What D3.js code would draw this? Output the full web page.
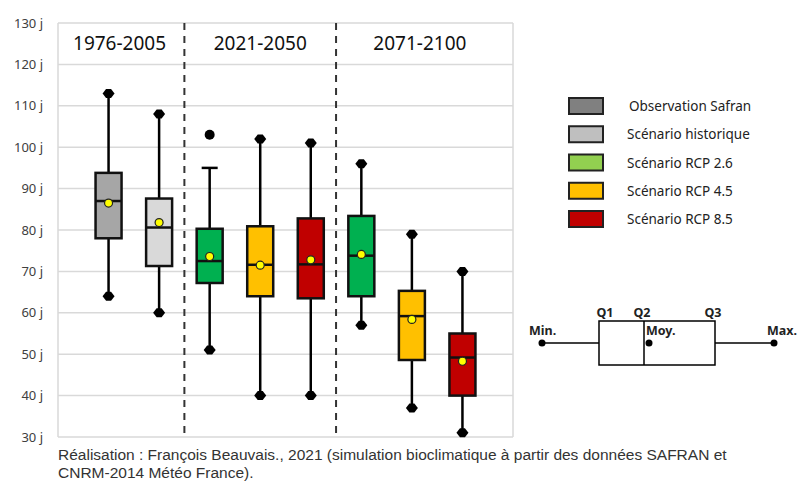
<!DOCTYPE html>
<html><head><meta charset="utf-8">
<script src="https://cdn.jsdelivr.net/npm/d3@7"></script>
<style>body{margin:0;background:#fff}svg{display:block}</style>
</head><body><svg id="c" width="797" height="483"></svg>
<script>
const periods = ["1976-2005","2021-2050","2071-2100"];
const boxNames = ["obs","hist","g50","o50","r50","g00","o00","r00"];
const boxPeriod = [0,0,1,1,1,2,2,2];
const boxFill = ["#a6a6a6","#d9d9d9","#00b050","#ffc000","#c00000","#00b050","#ffc000","#c00000"];
const minV =  [64, 60, 51, 40, 40, 57, 37, 31];
const q1V =   [78, 71.3, 67.2, 64, 63.5, 64, 48.6, 40];
const medV =  [87, 80.6, 72.5, 71.6, 71.7, 73.8, 59.2, 49.2];
const meanV = [86.5, 81.8, 73.6, 71.5, 72.8, 74.1, 58.4, 48.3];
const q3V =   [93.8, 87.6, 80.3, 80.9, 82.8, 83.4, 65.3, 55];
const maxV =  [113, 108, 95, 102, 101, 96, 79, 70];
const outliers = [{i:2, v:103}];
const capBoxes = [2]; // whisker end drawn as a cap, not a marker
const yTicks = [30,40,50,60,70,80,90,100,110,120,130];
const legendLabels = ["Observation Safran","Scénario historique","Scénario RCP 2.6","Scénario RCP 4.5","Scénario RCP 8.5"];
const legendColors = ["#808080","#bfbfbf","#92d050","#ffc000","#c00000"];
const caption = ["Réalisation : François Beauvais., 2021 (simulation bioclimatique à partir des données SAFRAN et","CNRM-2014 Météo France)."];

const svg = d3.select("#c");
const font = "'Noto Sans', 'Open Sans', sans-serif";
const L=58, R=513, T=23, B=437;
const y = d3.scaleLinear().domain([30,130]).range([B,T]);
const x = d3.scalePoint().domain(d3.range(-1,9)).range([L,R]);
const bw = 26;

// gridlines
svg.append("g").selectAll("line").data(yTicks).join("line")
  .attr("x1",L).attr("x2",R).attr("y1",d=>y(d)).attr("y2",d=>y(d))
  .attr("stroke","#d9d9d9").attr("stroke-width",1.5);
svg.append("line").attr("x1",R).attr("x2",R).attr("y1",T).attr("y2",B).attr("stroke","#d9d9d9").attr("stroke-width",1.5);
svg.append("line").attr("x1",L).attr("x2",L).attr("y1",T).attr("y2",B).attr("stroke","#d9d9d9").attr("stroke-width",1.5);

// y axis labels
const yAxis = d3.axisLeft(y).tickValues(yTicks).tickSize(0).tickPadding(15).tickFormat(d=>d+" j");
const ga = svg.append("g").attr("transform",`translate(${L},0)`).call(yAxis);
ga.select(".domain").remove();
ga.selectAll("text").attr("font-family",font).attr("font-size",13).attr("fill","#404040");

// dashed separators
const seps = [(x(1)+x(2))/2, (x(4)+x(5))/2];
svg.append("g").selectAll("line").data(seps).join("line")
  .attr("x1",d=>d).attr("x2",d=>d).attr("y1",T).attr("y2",B+2)
  .attr("stroke","#333").attr("stroke-width",2).attr("stroke-dasharray","7,6");

// period labels
const pc = [ x(0)+11, x(3), x(6)+8 ];
svg.append("g").selectAll("text").data(periods).join("text")
  .attr("x",(d,i)=>pc[i]).attr("y",50).attr("text-anchor","middle")
  .attr("font-family",font).attr("font-size",19).attr("fill","#111").text(d=>d);

const diamond = (cx,cy)=>`M${cx-6},${cy}L${cx-2.5},${cy-4.5}L${cx+2.5},${cy-4.5}L${cx+6},${cy}L${cx+2.5},${cy+4.5}L${cx-2.5},${cy+4.5}Z`;

const idx = d3.range(boxNames.length);
const g = svg.append("g");
// whiskers
g.selectAll("line.w").data(idx).join("line").attr("class","w")
  .attr("x1",i=>x(i)).attr("x2",i=>x(i)).attr("y1",i=>y(maxV[i])).attr("y2",i=>y(minV[i]))
  .attr("stroke","#000").attr("stroke-width",2.5);
// boxes
g.selectAll("rect").data(idx).join("rect")
  .attr("x",i=>x(i)-bw/2).attr("width",bw)
  .attr("y",i=>y(q3V[i])).attr("height",i=>y(q1V[i])-y(q3V[i]))
  .attr("fill",i=>boxFill[i]).attr("stroke","#111").attr("stroke-width",2.5);
// medians
g.selectAll("line.m").data(idx).join("line").attr("class","m")
  .attr("x1",i=>x(i)-bw/2).attr("x2",i=>x(i)+bw/2).attr("y1",i=>y(medV[i])).attr("y2",i=>y(medV[i]))
  .attr("stroke","#111").attr("stroke-width",2.5);
// max markers / caps
g.selectAll("path.mx").data(idx.filter(i=>!capBoxes.includes(i))).join("path").attr("class","mx")
  .attr("d",i=>diamond(x(i),y(maxV[i]))).attr("fill","#000");
g.selectAll("line.cap").data(capBoxes).join("line").attr("class","cap")
  .attr("x1",i=>x(i)-8).attr("x2",i=>x(i)+8).attr("y1",i=>y(maxV[i])).attr("y2",i=>y(maxV[i]))
  .attr("stroke","#000").attr("stroke-width",2.5);
g.selectAll("path.mn").data(idx).join("path").attr("class","mn")
  .attr("d",i=>diamond(x(i),y(minV[i]))).attr("fill","#000");
// outliers
g.selectAll("circle.o").data(outliers).join("circle").attr("class","o")
  .attr("cx",d=>x(d.i)).attr("cy",d=>y(d.v)).attr("r",5).attr("fill","#000");
// means
g.selectAll("circle.mean").data(idx).join("circle").attr("class","mean")
  .attr("cx",i=>x(i)).attr("cy",i=>y(meanV[i])).attr("r",4)
  .attr("fill","#ffff00").attr("stroke","#222").attr("stroke-width",1.2);

// legend
const lg = svg.append("g");
const ly = d3.scaleLinear().domain([0,4]).range([106,219]);
lg.selectAll("rect").data(legendLabels).join("rect")
  .attr("x",569).attr("y",(d,i)=>ly(i)-8).attr("width",34).attr("height",16)
  .attr("fill",(d,i)=>legendColors[i]).attr("stroke","#222").attr("stroke-width",2);
lg.selectAll("text").data(legendLabels).join("text")
  .attr("x",(d,i)=>i===0?629:627).attr("y",(d,i)=>ly(i)+5)
  .attr("font-family",font).attr("font-size",13.5).attr("fill","#222").text(d=>d);

// schematic
const sc = svg.append("g");
const sy = 343;
sc.append("line").attr("x1",542).attr("x2",599).attr("y1",sy).attr("y2",sy).attr("stroke","#000").attr("stroke-width",1.5);
sc.append("line").attr("x1",715).attr("x2",774).attr("y1",sy).attr("y2",sy).attr("stroke","#000").attr("stroke-width",1.5);
sc.append("rect").attr("x",599).attr("y",321).attr("width",116).attr("height",44).attr("fill","none").attr("stroke","#000").attr("stroke-width",1.5);
sc.append("line").attr("x1",644).attr("x2",644).attr("y1",321).attr("y2",365).attr("stroke","#000").attr("stroke-width",1.5);
[[542,sy],[774,sy],[649,sy]].forEach(p=>sc.append("circle").attr("cx",p[0]).attr("cy",p[1]).attr("r",3.5).attr("fill","#000"));
const sl = [["Q1",605,317,"middle"],["Q2",642,317,"middle"],["Q3",713,317,"middle"],["Min.",529,335,"start"],["Max.",797,335,"end"],["Moy.",646,335,"start"]];
sc.selectAll("text").data(sl).join("text")
  .attr("x",d=>d[1]).attr("y",d=>d[2]).attr("text-anchor",d=>d[3])
  .attr("font-family",font).attr("font-size",12.5).attr("font-weight","bold").attr("fill","#222").text(d=>d[0]);

// caption
svg.append("g").selectAll("text").data(caption).join("text")
  .attr("x",58).attr("y",(d,i)=>460+i*18)
  .attr("font-family","'Liberation Sans', Arial, sans-serif").attr("font-size",15.5).attr("fill","#333").text(d=>d);
</script></body></html>
